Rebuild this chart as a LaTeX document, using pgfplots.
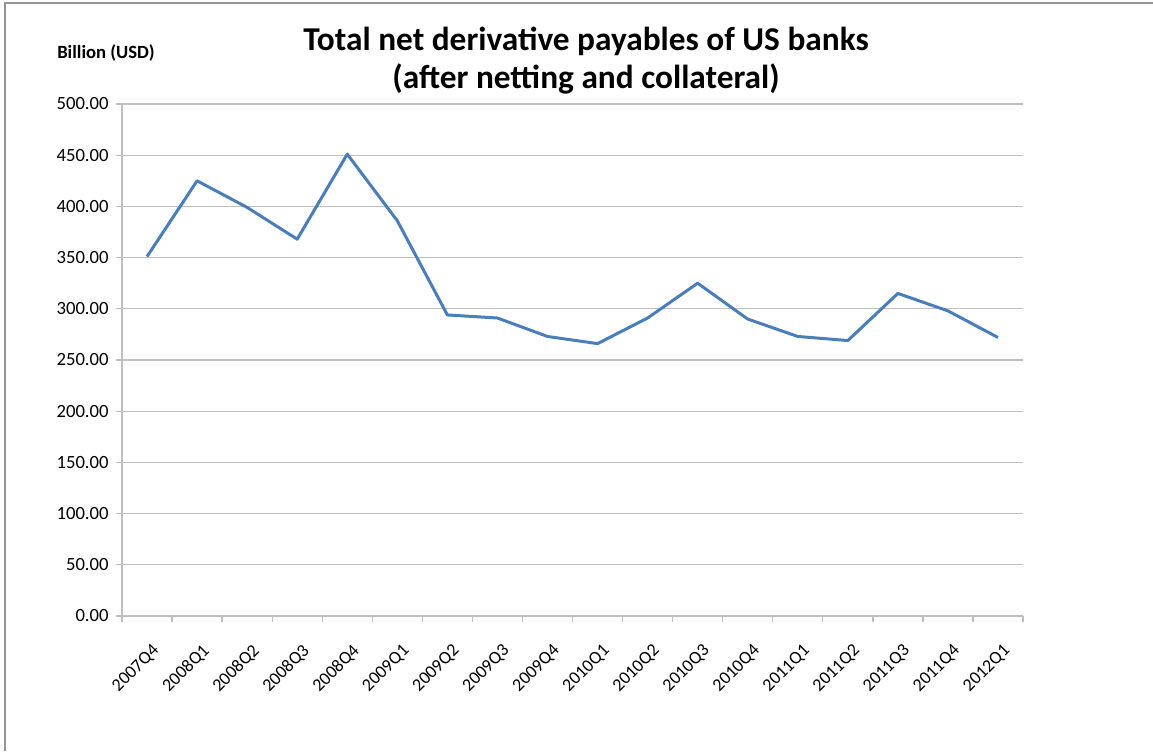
\documentclass[border=0pt]{standalone}
\usepackage{pgfplots}
\pgfplotsset{compat=1.18}
\usepackage{fontspec}
\setmainfont{Carlito}
\definecolor{linecol}{RGB}{74,126,187}
\definecolor{gridcol}{RGB}{191,191,191}
\definecolor{framecol}{RGB}{150,150,150}
\begin{document}
\begin{tikzpicture}[x=0.75pt,y=0.75pt]
  \path[use as bounding box] (0,0) rectangle (1153,751);
  % frame of the chart area
  \draw[framecol, line width=1.5pt] (5,0) -- (5,748) -- (1153,748);
  \node[font=\bfseries\fontsize{14}{16}\selectfont] at (106,698) {Billion (USD)};
  \node[align=center, font=\bfseries\fontsize{25}{28.5}\selectfont] at (586,690)
    {Total net derivative payables of US banks\\(after netting and collateral)};
  \begin{axis}[
    at={(91.5pt,101.25pt)},
    anchor=south west,
    scale only axis,
    width=675.75pt,
    height=384pt,
    xmin=-0.5, xmax=17.5,
    ymin=0, ymax=500,
    ytick={0,50,...,500},
    xtick={0,...,17},
    xticklabels={2007Q4,2008Q1,2008Q2,2008Q3,2008Q4,2009Q1,2009Q2,2009Q3,2009Q4,
      2010Q1,2010Q2,2010Q3,2010Q4,2011Q1,2011Q2,2011Q3,2011Q4,2012Q1},
    minor xtick={-0.5,0.5,...,17.5},
    axis x line=bottom,
    axis y line=left,
    axis line style={-, gridcol, line width=1pt},
    tick align=outside,
    major tick length=4.5pt,
    minor tick length=4.5pt,
    major x tick style={draw=none},
    minor x tick style={gridcol, line width=1pt},
    major y tick style={gridcol, line width=1pt},
    ymajorgrids,
    major grid style={gridcol, line width=1pt},
    y tick label style={font=\fontsize{14}{15}\selectfont, xshift=-2pt},
    x tick label style={font=\fontsize{13.5}{15}\selectfont, rotate=45, anchor=north east, xshift=-5.5pt, yshift=-10pt},
    yticklabel={\pgfmathprintnumber[fixed, fixed zerofill, precision=2]{\tick}},
    /pgf/number format/assume math mode=true,
    clip=false,
  ]
  \addplot[linecol, line width=2.25pt, line join=round] coordinates {
    (0, 351) (1, 425) (2, 399) (3, 368) (4, 451) (5, 386)
    (6, 294) (7, 291) (8, 273) (9, 266) (10, 291) (11, 325)
    (12, 290) (13, 273) (14, 269) (15, 315) (16, 298) (17, 272)
  };
  \end{axis}
\end{tikzpicture}
\end{document}
